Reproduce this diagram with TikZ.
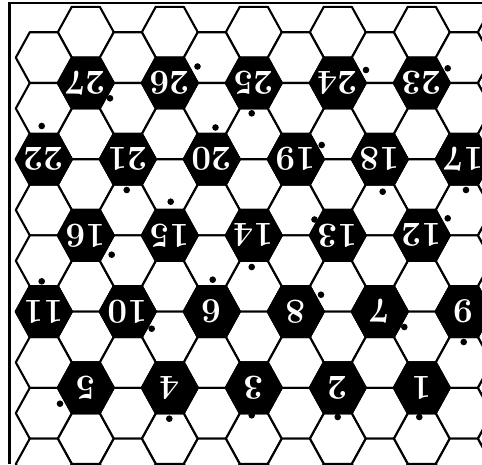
\documentclass[tikz,border=0pt]{standalone}
\tikzset{
  hexline/.style={line width=2.1pt, line join=round},
  whitehex/.style={hexline, draw=black, fill=white},
  blackhex/.style={hexline, draw=black, fill=black},
  numlabel/.style={text=white, font=\fontsize{35}{35}\selectfont\bfseries, inner sep=0pt, rotate=180},
  uprightlabel/.style={text=white, font=\fontsize{35}{35}\selectfont\bfseries, inner sep=0pt},
  frameline/.style={line width=2.6pt},
  whitecell/.pic={\path[whitehex] (-28,0) -- (-14,-25.4) -- (14,-25.4) -- (28,0) -- (14,25.4) -- (-14,25.4) -- cycle;},
  blackcell/.pic={\path[blackhex] (-28,0) -- (-14,-25.4) -- (14,-25.4) -- (28,0) -- (14,25.4) -- (-14,25.4) -- cycle;}
}
\begin{document}
\begin{tikzpicture}[x=1pt,y=-1pt]
\useasboundingbox (0,0) rectangle (482,464);
\clip (0,0) rectangle (482,464);
\fill[white] (0,0) rectangle (482,464);
% white cells
\foreach \k in {1,3,...,11}
  \foreach \n in {0,...,8}
    \pic at ({43.8+42*\k},{32.2+50.8*\n}) {whitecell};
\foreach \k in {0,2,...,10}
  \foreach \n in {0,...,8}
    \pic at ({43.8+42*\k},{57.6+50.8*\n}) {whitecell};
% black cells with upside-down numbers
\foreach \k/\yy/\num in {1/83/27,3/83/26,5/83/25,7/83/24,9/83/23,
  0/159.2/22,2/159.2/21,4/159.2/20,6/159.2/19,8/159.2/18,10/159.2/17,
  1/235.4/16,3/235.4/15,5/235.4/14,7/235.4/13,9/235.4/12,
  0/311.6/11,2/311.6/10,6/311.6/8,8/311.6/7,
  1/387.8/5,3/387.8/4,5/387.8/3,7/387.8/2,9/387.8/1}{
  \pic at ({43.8+42*\k},\yy) {blackcell};
  \node[numlabel] (n\num) at ({43.8+42*\k},\yy) {\num};
}
\foreach \k/\yy/\num in {4/311.6/9,10/311.6/6}{
  \pic at ({43.8+42*\k},\yy) {blackcell};
  \node[uprightlabel] (n\num) at ({43.8+42*\k},\yy) {\num};
}
% dots
\foreach \num/\dx/\dy in {27/110/98.3,26/197.5/66.5,25/251.7/113.3,24/366/70,23/447.7/68.3,
  22/41.7/126,21/126.7/190,20/215.5/127.5,19/321.7/145,18/382.7/191.7,17/466/190,
  16/111.7/254.7,15/170.7/201.7,14/251.7/267,13/314.5/219.5,12/447.7/218.3,
  11/41.7/281.3,10/151.7/328.7,9/212.7/279.7,8/321/294.7,7/404.3/327,6/463.7/342,
  5/60/403.7,4/169.3/418.7,3/251.7/415.3,2/337.7/417,1/419.3/417}{
  \coordinate (d\num) at (\dx,\dy);
  \fill (d\num) circle[radius=3.3];
}
% frame
\coordinate (fc) at (9.5,3);
\coordinate (fr) at (482,3);
\coordinate (fb) at (9.5,464);
\draw[frameline] (fb) -- (fc) -- (fr);
\end{tikzpicture}
\end{document}
